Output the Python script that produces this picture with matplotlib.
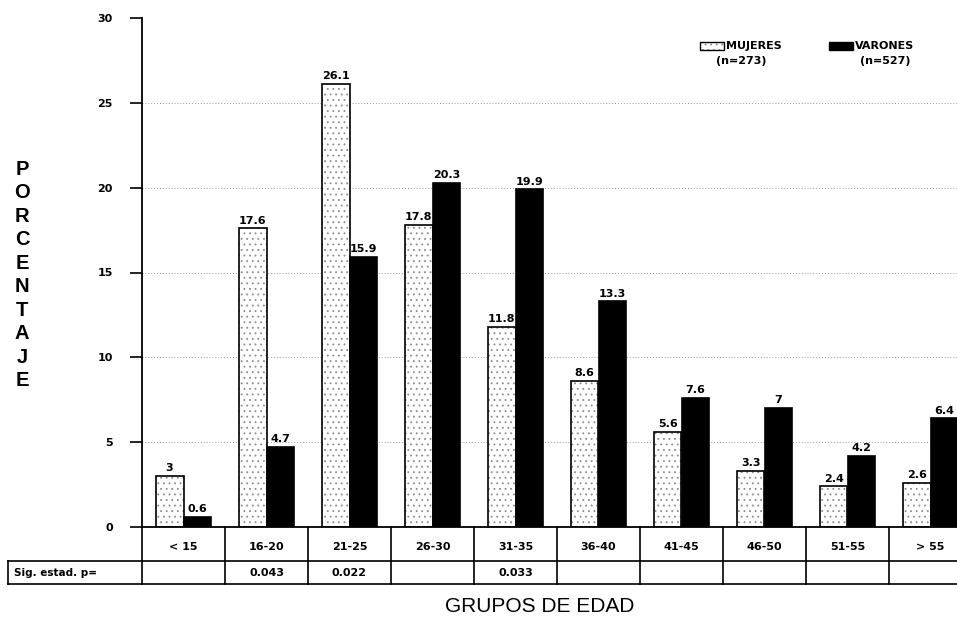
import numpy as np
import matplotlib.pyplot as plt
from matplotlib.patches import Rectangle
import matplotlib.transforms as mtransforms

# Datos
grupos = ['< 15', '16-20', '21-25', '26-30', '31-35', '36-40', '41-45', '46-50', '51-55', '> 55']
mujeres = [3, 17.6, 26.1, 17.8, 11.8, 8.6, 5.6, 3.3, 2.4, 2.6]
varones = [0.6, 4.7, 15.9, 20.3, 19.9, 13.3, 7.6, 7, 4.2, 6.4]
sig_p = ['', '0.043', '0.022', '', '0.033', '', '', '', '', '']
leyenda = ['MUJERES', '(n=273)', 'VARONES', '(n=527)']

plt.rcParams['hatch.linewidth'] = 0.6
PUNTOS = '#8c8c8c'

fig = plt.figure(figsize=(9.57, 6.19), dpi=100)
# el grafico original queda cortado por la derecha
ax = fig.add_axes([142 / 957, 1 - 527 / 619, 830 / 957, 509 / 619])

x = np.arange(len(grupos))
w = 0.335
# relleno punteado gris y contorno negro por separado
ax.bar(x - w / 2, mujeres, w, color='white', edgecolor=PUNTOS, linewidth=0, hatch='...')
b1 = ax.bar(x - w / 2, mujeres, w, fill=False, edgecolor='black', linewidth=1.2)
b2 = ax.bar(x + w / 2, varones, w, color='black', edgecolor='black', linewidth=1.2)

for rect, v in list(zip(b1, mujeres)) + list(zip(b2, varones)):
    ax.annotate(f'{v:g}', (rect.get_x() + rect.get_width() / 2, v), xytext=(0, 2),
                textcoords='offset points', ha='center', va='bottom',
                fontsize=8, fontweight='bold')

ax.set_xlim(-0.5, len(grupos) - 0.5)
ax.set_ylim(0, 30)
ax.set_yticks(np.arange(0, 31, 5))
ax.tick_params(axis='y', direction='out', length=9, width=1.2, labelsize=8, pad=12)
for lab in ax.get_yticklabels():
    lab.set_fontweight('bold')
ax.set_xticks([])
for g in [5, 10, 15, 20, 25]:
    ax.axhline(g, color='#999999', linestyle=(0, (1, 2)), linewidth=0.7, zorder=0)
ax.spines['top'].set_visible(False)
ax.spines['right'].set_visible(False)
ax.spines['left'].set_linewidth(1.3)
ax.spines['bottom'].set_linewidth(1.3)

# Tabla bajo el eje
trans = mtransforms.blended_transform_factory(ax.transData, ax.transAxes)
y1 = -34 / 509
y2 = -57 / 509
x_izq = (8 - 142) / 830 * 10 - 0.5
for b in np.arange(-0.5, len(grupos), 1.0):
    ax.plot([b, b], [0, y2], color='black', lw=1.2, transform=trans, clip_on=False)
ax.plot([x_izq, len(grupos) - 0.5], [y1, y1], color='black', lw=1.2, transform=trans, clip_on=False)
ax.plot([x_izq, len(grupos) - 0.5], [y2, y2], color='black', lw=1.2, transform=trans, clip_on=False)
ax.plot([x_izq, x_izq], [y1, y2], color='black', lw=1.2, transform=trans, clip_on=False)
for i, g in enumerate(grupos):
    ax.text(i, -20 / 509, g, transform=trans, ha='center', va='center', fontsize=8, fontweight='bold')
    if sig_p[i]:
        ax.text(i, -46 / 509, sig_p[i], transform=trans, ha='center', va='center', fontsize=8, fontweight='bold')
ax.text(x_izq + 0.07, -46 / 509, 'Sig. estad. p=', transform=trans, ha='left', va='center',
        fontsize=7.5, fontweight='bold')

# Titulos de ejes
fig.text(540 / 957, 1 - 607 / 619, 'GRUPOS DE EDAD', ha='center', va='center', fontsize=15,
         family=['Liberation Sans Narrow', 'Liberation Sans', 'DejaVu Sans'])
fig.text(22 / 957, 1 - 275 / 619, '\n'.join('PORCENTAJE'), ha='center', va='center',
         fontsize=14.5, fontweight='bold', linespacing=1.3, family=['Liberation Sans', 'DejaVu Sans'])

# Leyenda
fig.add_artist(Rectangle((700 / 957, 1 - 50 / 619), 24 / 957, 8 / 619, transform=fig.transFigure,
                         facecolor='white', edgecolor=PUNTOS, hatch='...', lw=0))
fig.add_artist(Rectangle((700 / 957, 1 - 50 / 619), 24 / 957, 8 / 619, transform=fig.transFigure,
                         fill=False, edgecolor='black', lw=1.0))
fig.text(726 / 957, 1 - 46 / 619, leyenda[0], ha='left', va='center', fontsize=8, fontweight='bold')
fig.text(716 / 957, 1 - 61 / 619, leyenda[1], ha='left', va='center', fontsize=8, fontweight='bold')
fig.add_artist(Rectangle((829 / 957, 1 - 50 / 619), 24 / 957, 8 / 619, transform=fig.transFigure,
                         facecolor='black', edgecolor='black', lw=1.0))
fig.text(855 / 957, 1 - 46 / 619, leyenda[2], ha='left', va='center', fontsize=8, fontweight='bold')
fig.text(860 / 957, 1 - 61 / 619, leyenda[3], ha='left', va='center', fontsize=8, fontweight='bold')

fig.savefig('out.png', dpi=100)
